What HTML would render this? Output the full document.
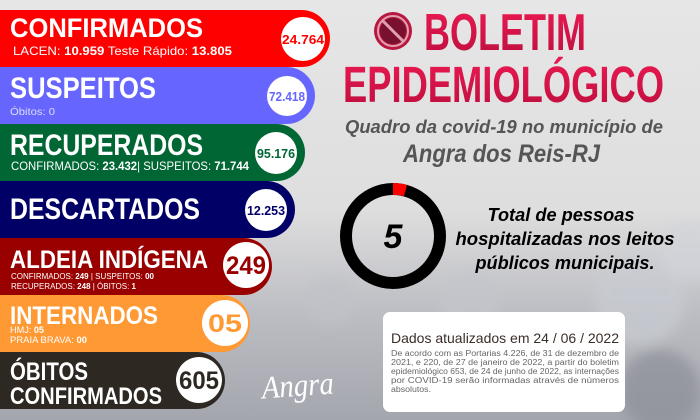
<!DOCTYPE html>
<html><head><meta charset="utf-8"><style>
html,body{margin:0;padding:0;width:700px;height:420px;overflow:hidden}
svg{display:block}
text{font-family:"Liberation Sans",sans-serif}
</style></head><body>
<svg width="700" height="420" viewBox="0 0 700 420">
<defs>
<linearGradient id="bg" x1="0" y1="0" x2="0" y2="1">
<stop offset="0" stop-color="#e6e6e6"/><stop offset="0.5" stop-color="#dedede"/><stop offset="0.75" stop-color="#bcbdc3"/><stop offset="1" stop-color="#a4a6ae"/></linearGradient>
<linearGradient id="tt" x1="0" y1="0" x2="0" y2="1"><stop offset="0" stop-color="#ec1a52"/><stop offset="1" stop-color="#bc0e3e"/></linearGradient>
<filter id="bl"><feGaussianBlur stdDeviation="6"/></filter>
</defs>
<rect width="700" height="420" fill="url(#bg)"/>
<g filter="url(#bl)" opacity="0.7">
<circle cx="640" cy="300" r="45" fill="#c9ccd3"/>
<circle cx="690" cy="250" r="30" fill="#d2d4da"/>
<circle cx="470" cy="300" r="30" fill="#c4c6cc"/>
<circle cx="660" cy="390" r="40" fill="#8d8f99"/>
<circle cx="330" cy="300" r="25" fill="#c0c2c8"/>
</g>
<path d="M0 10 H301.5 A28.5 28.5 0 0 1 301.5 67 H0Z" fill="#ff0000"/>
<path d="M0 67 H286.5 A28.5 28.5 0 0 1 286.5 124 H0Z" fill="#6666ff"/>
<path d="M0 124 H276.5 A28.5 28.5 0 0 1 276.5 181 H0Z" fill="#006633"/>
<path d="M0 181 H266.5 A28.5 28.5 0 0 1 266.5 238 H0Z" fill="#000066"/>
<path d="M0 238 H243.5 A28.5 28.5 0 0 1 243.5 295 H0Z" fill="#990000"/>
<path d="M0 295 H221.5 A28.5 28.5 0 0 1 221.5 352 H0Z" fill="#ff9933"/>
<path d="M0 352 H196.5 A28.5 28.5 0 0 1 196.5 409 H0Z" fill="#2e2823"/>
<circle cx="303" cy="39" r="22" fill="#fff"/>
<circle cx="287" cy="96" r="20" fill="#fff"/>
<circle cx="276" cy="153" r="21" fill="#fff"/>
<circle cx="266" cy="210" r="21" fill="#fff"/>
<circle cx="246" cy="265" r="23" fill="#fff"/>
<circle cx="225" cy="323" r="23" fill="#fff"/>
<circle cx="199" cy="380" r="23" fill="#fff"/>
<g font-weight="bold" text-anchor="middle">
<text x="303" y="44" font-size="13" fill="#ff0000" textLength="42" lengthAdjust="spacingAndGlyphs">24.764</text>
<text x="287" y="101" font-size="13" fill="#6666ff" textLength="36" lengthAdjust="spacingAndGlyphs">72.418</text>
<text x="276" y="158" font-size="13" fill="#006633" textLength="38" lengthAdjust="spacingAndGlyphs">95.176</text>
<text x="266" y="215" font-size="13" fill="#000066" textLength="38" lengthAdjust="spacingAndGlyphs">12.253</text>
<text x="246" y="274" font-size="25" fill="#990000" textLength="40" lengthAdjust="spacingAndGlyphs">249</text>
<text x="225" y="332" font-size="25" fill="#ff9933" textLength="34" lengthAdjust="spacingAndGlyphs">05</text>
<text x="199" y="389" font-size="25" fill="#2e2823" textLength="40" lengthAdjust="spacingAndGlyphs">605</text>
</g>
<g fill="#fff" font-weight="bold">
<text x="10" y="37" font-size="27" textLength="193" lengthAdjust="spacingAndGlyphs">CONFIRMADOS</text>
<text x="10" y="98" font-size="30" textLength="146" lengthAdjust="spacingAndGlyphs">SUSPEITOS</text>
<text x="10" y="155" font-size="30" textLength="193" lengthAdjust="spacingAndGlyphs">RECUPERADOS</text>
<text x="10" y="219" font-size="30" textLength="190" lengthAdjust="spacingAndGlyphs">DESCARTADOS</text>
<text x="10" y="268" font-size="25" textLength="198" lengthAdjust="spacingAndGlyphs">ALDEIA INDÍGENA</text>
<text x="10" y="324" font-size="25" textLength="148" lengthAdjust="spacingAndGlyphs">INTERNADOS</text>
<text x="10" y="380" font-size="25" textLength="78" lengthAdjust="spacingAndGlyphs">ÓBITOS</text>
<text x="10" y="404" font-size="24" textLength="152" lengthAdjust="spacingAndGlyphs">CONFIRMADOS</text>
</g>
<g fill="#fff">
<text x="13" y="55" font-size="12" textLength="219" lengthAdjust="spacingAndGlyphs">LACEN: <tspan font-weight="bold">10.959</tspan> Teste Rápido: <tspan font-weight="bold">13.805</tspan></text>
<text x="10" y="115" font-size="10" fill="#ddddff" textLength="45" lengthAdjust="spacingAndGlyphs">Óbitos: 0</text>
<text x="11" y="170" font-size="12" textLength="238" lengthAdjust="spacingAndGlyphs">CONFIRMADOS: <tspan font-weight="bold">23.432</tspan>| SUSPEITOS: <tspan font-weight="bold">71.744</tspan></text>
<text x="11" y="279" font-size="8" textLength="143" lengthAdjust="spacingAndGlyphs">CONFIRMADOS: <tspan font-weight="bold">249</tspan> | SUSPEITOS: <tspan font-weight="bold">00</tspan></text>
<text x="11" y="289" font-size="8" textLength="125" lengthAdjust="spacingAndGlyphs">RECUPERADOS: <tspan font-weight="bold">248</tspan> | ÓBITOS: <tspan font-weight="bold">1</tspan></text>
<text x="10" y="333" font-size="9" textLength="34" lengthAdjust="spacingAndGlyphs">HMJ: <tspan font-weight="bold">05</tspan></text>
<text x="10" y="343" font-size="9" textLength="77" lengthAdjust="spacingAndGlyphs">PRAIA BRAVA: <tspan font-weight="bold">00</tspan></text>
</g>
<text x="262" y="396" style="font-family:'Liberation Serif',serif;font-style:italic" font-size="32" fill="#fff" textLength="72" lengthAdjust="spacingAndGlyphs" transform="rotate(-4 298 390)">Angra</text>
<circle cx="393" cy="31" r="19" fill="#b8173f"/>
<circle cx="393" cy="31" r="13" fill="#7a1030"/>
<circle cx="393" cy="31" r="15" fill="none" stroke="#e0a0b0" stroke-width="2"/>
<line x1="382" y1="20" x2="404" y2="42" stroke="#e0a0b0" stroke-width="3"/>
<g fill="url(#tt)" font-weight="bold">
<text x="424" y="50" font-size="52" textLength="162" lengthAdjust="spacingAndGlyphs">BOLETIM</text>
<text x="343" y="102" font-size="51" textLength="321" lengthAdjust="spacingAndGlyphs">EPIDEMIOLÓGICO</text>
</g>
<g fill="#555" font-weight="bold" font-style="italic">
<text x="345" y="133" font-size="18" textLength="318" lengthAdjust="spacingAndGlyphs">Quadro da covid-19 no município de</text>
<text x="403" y="162" font-size="25" textLength="197" lengthAdjust="spacingAndGlyphs">Angra dos Reis-RJ</text>
</g>
<circle cx="393" cy="236" r="47" fill="none" stroke="#000" stroke-width="12"/>
<path d="M393 183 A53 53 0 0 1 407 185 L404 196 A41 41 0 0 0 393 195Z" fill="#ff0000"/>
<text x="393" y="248" text-anchor="middle" font-size="34" font-weight="bold" font-style="italic" fill="#000">5</text>
<g font-weight="bold" font-style="italic" font-size="18" fill="#000" text-anchor="middle">
<text x="561" y="221" textLength="147" lengthAdjust="spacingAndGlyphs">Total de pessoas</text>
<text x="565" y="245" textLength="219" lengthAdjust="spacingAndGlyphs">hospitalizadas nos leitos</text>
<text x="565" y="269" textLength="179" lengthAdjust="spacingAndGlyphs">públicos municipais.</text>
</g>
<rect x="383" y="312" width="242" height="100" rx="7" fill="#fff"/>
<text x="391" y="343" font-size="14" fill="#3a2e28" textLength="228" lengthAdjust="spacingAndGlyphs">Dados atualizados em  24 / 06 / 2022</text>
<g font-size="8" fill="#666">
<text x="391" y="356" textLength="228" lengthAdjust="spacingAndGlyphs">De acordo com as Portarias 4.226, de 31 de dezembro de</text>
<text x="391" y="365" textLength="228" lengthAdjust="spacingAndGlyphs">2021, e 220, de 27 de janeiro de 2022, a partir do boletim</text>
<text x="391" y="374" textLength="228" lengthAdjust="spacingAndGlyphs">epidemiológico 653, de 24 de junho de 2022, as internações</text>
<text x="391" y="383" textLength="228" lengthAdjust="spacingAndGlyphs">por COVID-19 serão informadas através de números</text>
<text x="391" y="392" textLength="40" lengthAdjust="spacingAndGlyphs">absolutos.</text>
</g>
</svg>
</body></html>
